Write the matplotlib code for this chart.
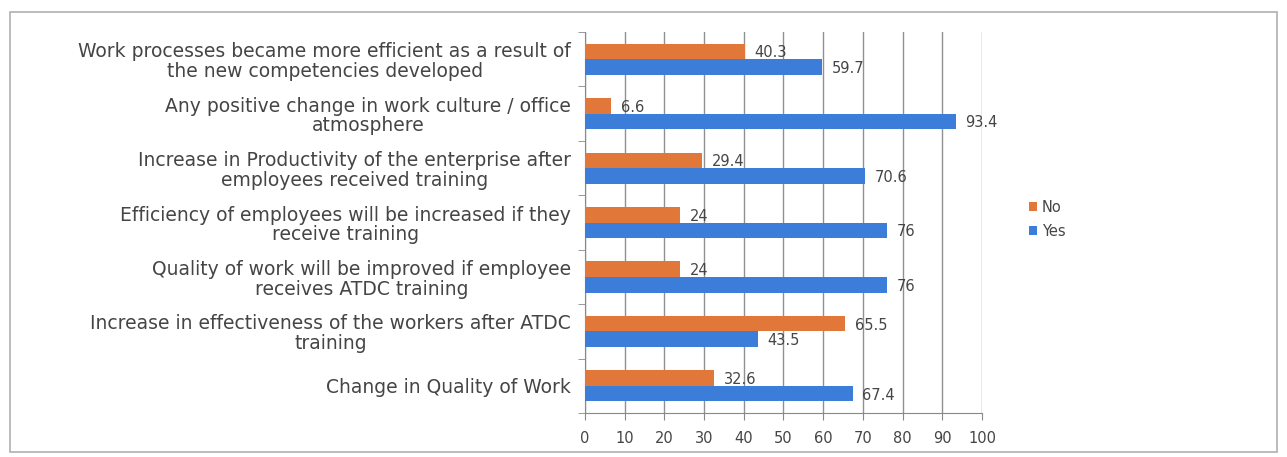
import matplotlib
matplotlib.use("Agg")
import matplotlib.pyplot as plt
import numpy as np
from matplotlib.patches import Rectangle

categories = [
    "Change in Quality of Work",
    "Increase in effectiveness of the workers after ATDC\ntraining",
    "Quality of work will be improved if employee\nreceives ATDC training",
    "Efficiency of employees will be increased if they\nreceive training",
    "Increase in Productivity of the enterprise after\nemployees received training",
    "Any positive change in work culture / office\natmosphere",
    "Work processes became more efficient as a result of\nthe new competencies developed",
]
no_values = [32.6, 65.5, 24, 24, 29.4, 6.6, 40.3]
yes_values = [67.4, 43.5, 76, 76, 70.6, 93.4, 59.7]
no_labels = ["32.6", "65.5", "24", "24", "29.4", "6.6", "40.3"]
yes_labels = ["67.4", "43.5", "76", "76", "70.6", "93.4", "59.7"]
x_ticks = [0, 10, 20, 30, 40, 50, 60, 70, 80, 90, 100]

plt.rcParams['font.family'] = ['DejaVu Sans']

c_no = "#E2773A"
c_yes = "#3C7DD9"
txt = "#454545"

fig = plt.figure(figsize=(12.87, 4.57), dpi=100)
fig.patches.append(Rectangle((0.008, 0.012), 0.984, 0.962, transform=fig.transFigure,
                             fill=False, edgecolor="#b0b0b0", linewidth=1.2))
ax = fig.add_axes([0.4545, 0.096, 0.3085, 0.834])

y = np.arange(len(categories))
h = 0.285
ax.barh(y + h / 2, no_values, height=h, color=c_no, label="No", zorder=3)
ax.barh(y - h / 2, yes_values, height=h, color=c_yes, label="Yes", zorder=3)

for yi, v, s in zip(y, no_values, no_labels):
    ax.annotate(s, (v, yi + h / 2), xytext=(7, -1), textcoords="offset points",
                va="center", ha="left", fontsize=10.5, color=txt, zorder=4)
for yi, v, s in zip(y, yes_values, yes_labels):
    ax.annotate(s, (v, yi - h / 2), xytext=(7, -1), textcoords="offset points",
                va="center", ha="left", fontsize=10.5, color=txt, zorder=4)

ax.set_xlim(0, 100)
ax.set_ylim(-0.5, len(categories) - 0.5)
ax.set_xticks(x_ticks)
ax.set_xticklabels([str(t) for t in x_ticks], fontsize=10.5, color=txt)
ax.set_yticks(y)
ax.set_yticklabels(categories, fontsize=13.5, color=txt, multialignment="center",
                   linespacing=1.05)
ax.tick_params(axis="y", length=0, pad=10)
ax.tick_params(axis="x", length=5, direction="out", color="#888888", pad=8)
ax.set_yticks(np.arange(-0.5, len(categories), 1), minor=True)
ax.tick_params(axis="y", which="minor", length=5, color="#888888")

ax.xaxis.grid(True, color="#909090", linewidth=1.0, zorder=0)
ax.set_axisbelow(True)
for side in ["top", "right"]:
    ax.spines[side].set_visible(False)
for side in ["left", "bottom"]:
    ax.spines[side].set_color("#888888")

handles, labels = ax.get_legend_handles_labels()
leg = fig.legend(handles, labels, loc="center left", bbox_to_anchor=(0.789, 0.52),
                 frameon=False, fontsize=10.5, handlelength=0.6, handleheight=0.6,
                 handletextpad=0.3, labelspacing=0.6)
for t in leg.get_texts():
    t.set_color(txt)

fig.savefig("out.png", dpi=100)
